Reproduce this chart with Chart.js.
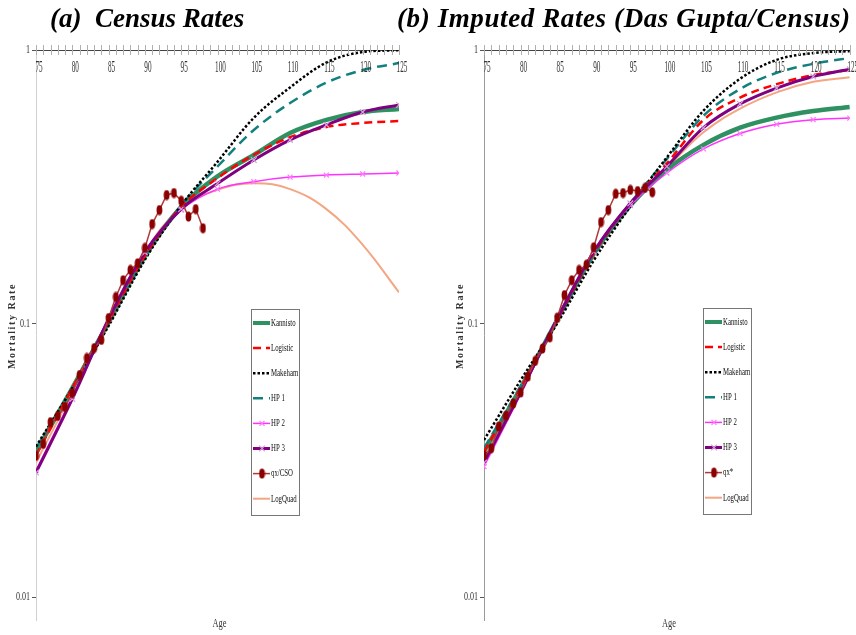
<!DOCTYPE html>
<html><head><meta charset="utf-8">
<script src="https://cdn.jsdelivr.net/npm/chart.js@4.4.1/dist/chart.umd.min.js"></script>
<style>
html,body{margin:0;padding:0;background:#fff;width:856px;height:635px;overflow:hidden;}
#wrap{position:relative;width:856px;height:635px;}
.t{position:absolute;top:1px;font-family:"Liberation Serif","Times New Roman",serif;font-weight:bold;font-style:italic;font-size:27px;white-space:pre;color:#000;z-index:2;line-height:34px;}
.box{position:absolute;top:0;height:635px;}
</style></head><body>
<div id="wrap">
<div class="box" style="left:0;width:430px"><canvas id="ca" width="430" height="635"></canvas></div>
<div class="box" style="left:430px;width:426px"><canvas id="cb" width="426" height="635"></canvas></div>
<div class="t" style="left:50px">(a)  Census Rates</div>
<div class="t" style="left:397px;letter-spacing:0.6px">(b) Imputed Rates (Das Gupta/Census)</div>
</div>
<script>
// ---------- data ----------
const ages = [75, 80, 85, 90, 95, 100, 105, 110, 115, 120, 125];
const obsAges = [75,76,77,78,79,80,81,82,83,84,85,86,87,88,89,90,91,92,93,94,95,96,97,98];
const xTickValues = [75, 80, 85, 90, 95, 100, 105, 110, 115, 120, 125];
const yTickValues = [0.01, 0.1, 1];
const yTickLabels = ['0.01', '0.1', '1'];
const seriesNamesA = ['Kannisto','Logistic','Makeham','HP 1','HP 2','HP 3','qx/CSO','LogQuad'];
const seriesNamesB = ['Kannisto','Logistic','Makeham','HP 1','HP 2','HP 3','qx*','LogQuad'];
const xTitle = 'Age';
const yTitle = 'Mortality Rate';

// (a) Census rates
const kannistoA = [0.034, 0.058, 0.101, 0.176, 0.267, 0.345, 0.413, 0.497, 0.555, 0.593, 0.609];
const logisticA = [0.033, 0.058, 0.102, 0.177, 0.267, 0.340, 0.414, 0.480, 0.523, 0.541, 0.550];
const makehamA  = [0.0355, 0.058, 0.098, 0.171, 0.270, 0.390, 0.565, 0.730, 0.900, 0.983, 0.998];
const hp1A      = [0.035, 0.058, 0.100, 0.174, 0.270, 0.375, 0.510, 0.640, 0.760, 0.845, 0.896];
const hp2A      = [0.029, 0.054, 0.104, 0.184, 0.260, 0.310, 0.330, 0.343, 0.349, 0.352, 0.355];
const hp3A      = [0.0285, 0.053, 0.104, 0.182, 0.262, 0.325, 0.396, 0.469, 0.532, 0.593, 0.630];
const logQuadA  = [0.031, 0.056, 0.104, 0.183, 0.265, 0.308, 0.326, 0.310, 0.262, 0.194, 0.130];
const qxA = [0.0328,0.0363,0.0436,0.0459,0.0495,0.0557,0.0648,0.0748,0.0813,0.0871,0.1047,0.125,
             0.144,0.157,0.166,0.189,0.231,0.260,0.295,0.300,0.281,0.246,0.262,0.223];

// (b) Imputed rates
const kannistoB = [0.034, 0.058, 0.103, 0.180, 0.270, 0.365, 0.450, 0.520, 0.566, 0.598, 0.619];
const logisticB = [0.034, 0.058, 0.103, 0.180, 0.275, 0.385, 0.555, 0.670, 0.750, 0.810, 0.845];
const makehamB  = [0.0375, 0.062, 0.100, 0.170, 0.268, 0.405, 0.600, 0.785, 0.920, 0.975, 0.990];
const hp1B      = [0.035, 0.059, 0.102, 0.178, 0.275, 0.400, 0.575, 0.720, 0.825, 0.890, 0.935];
const hp2B      = [0.030, 0.055, 0.104, 0.183, 0.270, 0.355, 0.435, 0.495, 0.535, 0.556, 0.564];
const hp3B      = [0.031, 0.056, 0.104, 0.183, 0.275, 0.375, 0.520, 0.635, 0.726, 0.800, 0.850];
const logQuadB  = [0.032, 0.057, 0.104, 0.182, 0.272, 0.370, 0.500, 0.610, 0.700, 0.765, 0.795];
const qxB = [0.033,0.035,0.042,0.046,0.051,0.056,0.064,0.073,0.081,0.089,0.105,0.127,
             0.144,0.157,0.164,0.190,0.235,0.260,0.298,0.300,0.308,0.305,0.313,0.302];

// ---------- styles ----------
function ovalMarker(color){
  const c=document.createElement('canvas'); c.width=7; c.height=11;
  const g=c.getContext('2d'); g.fillStyle=color; g.beginPath();
  g.ellipse(3.5,5.5,2.9,5,0,0,Math.PI*2); g.fill(); return c;
}
const qxMarker = ovalMarker('#8b0000');
const styles = [
  {color:'#2f9161', width:4.5, dash:[], order:6},
  {color:'#ff0000', width:2.5, dash:[8,5], order:3},
  {color:'#000000', width:2.5, dash:[2.5,2], order:4},
  {color:'#12807d', width:2.5, dash:[10,6], order:5},
  {color:'#ff33ff', width:1.5, dash:[], order:2, point:'crossRot', pcolor:'#ff77ff', pr:3.5},
  {color:'#800080', width:3, dash:[], order:1, point:'crossRot', pcolor:'#d8a0dd', pr:4},
  {color:'#b03a3a', width:1.5, dash:[], order:0, point:qxMarker, pcolor:'#8b0000', pr:5},
  {color:'#f4a582', width:2, dash:[], order:7, plain:true}
];

function xy(xs, ys){ return xs.map((x,i)=>({x:x, y:ys[i]})); }

function buildDatasets(names, fitted, obs){
  return names.map((n,i)=>{
    const s = styles[i];
    const data = (i===6) ? xy(obsAges, obs) : xy(ages, fitted[i]);
    return {
      label:n, data:data, borderColor:s.color, backgroundColor:s.pcolor||s.color,
      borderWidth:s.width, borderDash:s.dash, order:s.order,
      pointStyle:s.point||'circle', pointRadius:s.point?s.pr:0,
      pointBorderColor:s.pcolor||s.color, pointBackgroundColor:s.pcolor||s.color,
      pointBorderWidth:1.2,
      cubicInterpolationMode: (i===6 || s.plain) ? 'default' : 'monotone',
      tension: i===6 ? 0 : 0.4,
      fill:false
    };
  });
}

function condensed(ctx, text, x, y, font, sx, align, color){
  ctx.save(); ctx.translate(x,y); ctx.scale(sx,1);
  ctx.font=font; ctx.textAlign=align; ctx.textBaseline='middle'; ctx.fillStyle=color||'#222';
  ctx.fillText(text,0,0); ctx.restore();
}

const decor = {
  id:'decor',
  afterDraw(chart, args, o){
    const ctx=chart.ctx, xs=chart.scales.x, ys=chart.scales.y, ca=chart.chartArea;
    ctx.save();
    // year ticks across the top axis
    ctx.strokeStyle='#b0b0b0'; ctx.lineWidth=1;
    for(let a=75;a<=125;a++){
      const px=Math.round(xs.getPixelForValue(a))+0.5;
      ctx.beginPath(); ctx.moveTo(px,ca.top-5); ctx.lineTo(px,ca.top+5); ctx.stroke();
    }
    // x tick labels (below top axis)
    xTickValues.forEach(v=>condensed(ctx,String(v),xs.getPixelForValue(v)+3,ca.top+18,'16px "Liberation Serif"',0.45,'center','#333'));
    // y tick labels
    yTickValues.forEach((v,i)=>condensed(ctx,yTickLabels[i],ca.left-6,ys.getPixelForValue(v),'13px "Liberation Serif"',0.62,'right','#333'));
    // y title
    ctx.save(); ctx.translate(o.yTitleX, 326); ctx.rotate(-Math.PI/2);
    ctx.font='bold 10px "Liberation Serif"'; ctx.textAlign='center'; ctx.textBaseline='middle';
    ctx.fillStyle='#333'; ctx.letterSpacing='1.6px'; ctx.fillText(yTitle,0,0); ctx.restore();
    // x title
    condensed(ctx,xTitle,(ca.left+ca.right)/2+2,624,'12px "Liberation Serif"',0.7,'center','#333');
    // legend
    const x0=ca.left+o.legX, y0=o.legY, w=48, h=206;
    ctx.fillStyle='#fff'; ctx.fillRect(x0,y0,w,h);
    ctx.strokeStyle='#777'; ctx.lineWidth=1; ctx.strokeRect(x0+0.5,y0+0.5,w,h);
    chart.data.datasets.forEach((d,i)=>{
      const ly=y0+14+i*25.1;
      ctx.save();
      ctx.strokeStyle=d.borderColor; ctx.lineWidth=Math.min(d.borderWidth,4);
      ctx.setLineDash(d.borderDash||[]);
      ctx.beginPath(); ctx.moveTo(x0+2,ly); ctx.lineTo(x0+19,ly); ctx.stroke();
      ctx.setLineDash([]);
      if(d.pointRadius>0){
        ctx.strokeStyle=d.pointBorderColor; ctx.fillStyle=d.pointBackgroundColor; ctx.lineWidth=1.2;
        Chart.helpers.drawPoint(ctx,{pointStyle:d.pointStyle,radius:d.pointRadius,rotation:0,borderWidth:1.2},x0+11,ly);
      }
      ctx.restore();
      condensed(ctx,d.label,x0+20,ly,'11px "Liberation Serif"',0.62,'left','#111');
    });
    ctx.restore();
  }
};

function makeChart(id, datasets, yW, padRight, legX, legY, yTitleX, yBorder){
  return new Chart(document.getElementById(id),{
    type:'line',
    data:{datasets:datasets},
    options:{
      responsive:false, animation:false, events:[],
      layout:{padding:{left:0,right:padRight,top:0,bottom:15}},
      plugins:{legend:{display:false}, tooltip:{enabled:false}, title:{display:false},
               decor:{legX:legX, legY:legY, yTitleX:yTitleX}},
      scales:{
        x:{type:'linear', position:'top', min:75, max:125,
           ticks:{display:false, stepSize:5},
           grid:{display:false},
           border:{display:true, color:'#444', width:1},
           afterFit(s){ s.height=50; }},
        y:{type:'logarithmic', min:0.00824, max:1,
           ticks:{display:false},
           afterBuildTicks(s){ s.ticks = yTickValues.map(v=>({value:v})); },
           grid:{display:true, drawOnChartArea:false, drawTicks:true, tickLength:4, color:'#555'},
           border:{display:true, color:yBorder, width:1},
           afterFit(s){ s.width=yW; }}
      }
    },
    plugins:[decor]
  });
}

makeChart('ca', buildDatasets(seriesNamesA,[kannistoA,logisticA,makehamA,hp1A,hp2A,hp3A,null,logQuadA],qxA),
          36, 31, 215, 309, 12, '#d0d0d0');
makeChart('cb', buildDatasets(seriesNamesB,[kannistoB,logisticB,makehamB,hp1B,hp2B,hp3B,null,logQuadB],qxB),
          54, 3, 219, 308, 30, '#9a9a9a');
</script>
</body></html>
